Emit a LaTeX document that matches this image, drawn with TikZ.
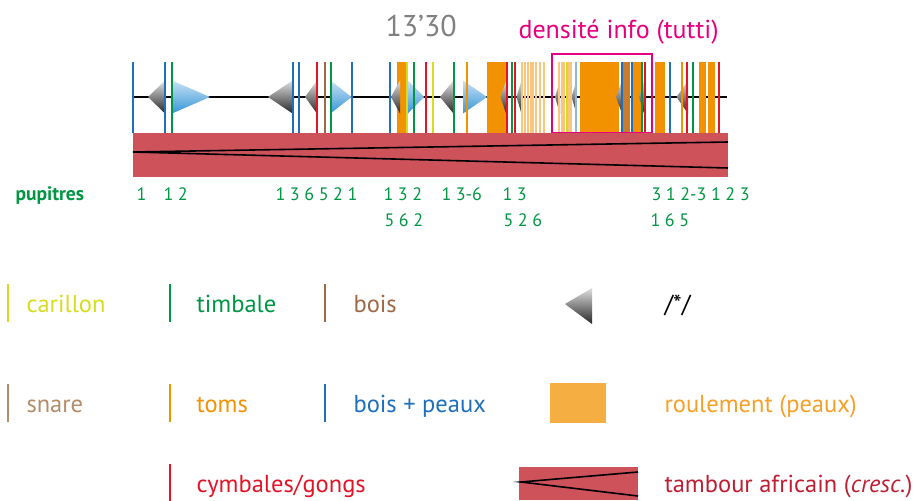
\documentclass[tikz,border=0pt]{standalone}
\usepackage{fontspec}
\setmainfont{PT Sans}
\usepackage{tikz}
\usetikzlibrary{positioning}
\definecolor{BoisPeaux}{RGB}{30,112,188}
\definecolor{BleuClair}{RGB}{200,225,245}
\definecolor{BleuFonce}{RGB}{55,150,215}
\definecolor{Timbale}{RGB}{0,150,68}
\definecolor{Cymbale}{RGB}{228,20,40}
\definecolor{Bois}{RGB}{160,105,70}
\definecolor{Snare}{RGB}{180,140,105}
\definecolor{Carillon}{RGB}{215,220,30}
\definecolor{Toms}{RGB}{243,146,0}
\definecolor{TomsClair}{RGB}{250,198,125}
\definecolor{BrunToms}{RGB}{200,125,45}
\definecolor{Roulement}{RGB}{245,174,65}
\definecolor{RoulementTxt}{RGB}{245,160,40}
\definecolor{Densite}{RGB}{230,0,126}
\definecolor{Tambour}{RGB}{205,82,89}
\definecolor{TambourTxt}{RGB}{190,30,50}
\definecolor{Minutage}{RGB}{128,128,128}
\newcommand{\chiffres}[1]{{\spaceskip=4.6pt\relax #1}}

\begin{document}
\begin{tikzpicture}[x=1pt, y=-1pt,
		trait/.style={line width=2pt},
		barre/.style={fill=Toms},
		gris/.style={top color=black!12, bottom color=black!85},
		bleu/.style={top color=BleuClair, bottom color=BleuFonce},
		legende/.style={anchor=base west, font=\fontsize{24.5}{28}\selectfont},
		pupitre/.style={anchor=base west, text=Timbale, font=\fontsize{18}{21}\selectfont}]
	\useasboundingbox (0,0) rectangle (914,501);
	\draw[line width=2pt] (133,97) -- (727,97);
	\foreach \a/\b in {397/406, 487/506, 580/618.5, 633/640.5, 655/664.5, 699/706, 708/715}{
		\fill[barre] (\a,62) rectangle (\b,133);
	}
	\fill[BrunToms] (623,62) rectangle (630,133);
	\foreach \a/\b in {148/165, 268/292.5, 305/317, 391/400, 440/453.5, 500.5/506, 516.5/521.5, 555/560, 571.5/576.5, 616/622, 639/644, 676.5/688}{
		\shade[gris] (\a,97) -- (\b,80.5) -- (\b,113.5) -- cycle;
	}
	\foreach \a/\b in {172/210, 330.5/351.5, 408/424, 463/487}{
		\shade[bleu] (\a,80.5) -- (\b,97) -- (\a,113.5) -- cycle;
	}
	\foreach \x/\col in {133/BoisPeaux, 165/BoisPeaux, 171.5/Timbale, 292.5/BoisPeaux, 299/BoisPeaux, 316.5/Cymbale, 325/Bois, 330.5/Timbale, 351.5/BoisPeaux,
		390/BoisPeaux, 406.5/Carillon, 414/Timbale, 425.5/Cymbale, 432.5/Carillon, 453.5/Timbale, 466.5/Toms, 506.5/Cymbale, 511.5/Timbale, 514.5/Cymbale,
		521.5/TomsClair, 524.5/TomsClair, 527.5/TomsClair, 530.5/TomsClair, 533/TomsClair, 536/TomsClair, 539.5/TomsClair, 543.5/TomsClair,
		559/TomsClair, 561.7/TomsClair, 564/TomsClair, 566.5/Carillon, 569/TomsClair, 571/TomsClair, 576/BoisPeaux!50,
		621.7/BoisPeaux, 631.7/BoisPeaux, 642/Timbale, 644.5/Cymbale, 670/BoisPeaux, 681.7/Toms, 687.3/Cymbale, 693.3/Timbale, 719/Cymbale}{
		\draw[trait, \col] (\x,62) -- (\x,133);
	}
	\draw[trait, Densite] (551.5,54) rectangle (651.5,133);
	\fill[Tambour] (133,133) rectangle (728,177);
	\draw[line width=1.6pt] (728,142) -- (133,152) -- (728,168);
	\node[anchor=base west, text=Minutage, font=\fontsize{30}{34}\selectfont] (minutage) at (382,36) {13’30};
	\node[anchor=base west, text=Densite, font=\fontsize{26}{30}\selectfont] (densite) at (515,38) {densité info (tutti)};
	\node[pupitre, font=\bfseries\fontsize{19.5}{22}\selectfont] (pupitres) at (12,200.5) {pupitres};
	\foreach \i/\x/\lab in {1/133/1, 2/160/1 2, 3/272/1 3 6 5 2 1, 4/380/1 3 2, 5/438/1 3-6, 6/499/1 3, 7/648/3 1 2-3 1 2 3}{
		\node[pupitre] (haut\i) at (\x,200.5) {\chiffres{\lab}};
	}
	\foreach \i/\x/\lab in {1/381/5 6 2, 2/500/5 2 6, 3/647/1 6 5}{
		\node[pupitre] (bas\i) at (\x,226) {\chiffres{\lab}};
	}
	\foreach \i/\lx/\tx/\ly/\col/\lab in {1/8/23/303/Carillon/carillon, 2/170/193/303/Timbale/timbale, 3/325/350/303/Bois/bois,
		4/8/23/403/Snare/snare, 5/170/193/403/Toms/toms, 6/325/350/403/BoisPeaux/bois + peaux, 7/170/193/483/Cymbale/{cymbales/gongs}}{
		\draw[trait, \col] (\lx,\ly-19) -- (\lx,\ly+19);
		\node[legende, text=\col] (leg\i) at (\tx,\ly+9) {\lab};
	}
	\shade[gris] (565,304) -- (592,288) -- (592,324) -- cycle;
	\node[legende] (etoile) at (661,312) {/*/};
	\fill[Roulement] (550,383) rectangle (606,423);
	\node[legende, text=RoulementTxt] (roulement) at (661,412) {roulement (peaux)};
	\fill[Tambour] (519,467) rectangle (638,500);
	\draw[line width=1.6pt] (638,472) -- (521,482) -- (638,496);
	\node[legende, text=TambourTxt] (tambour) at (661,492) {tambour africain (\textit{cresc.})};
\end{tikzpicture}
\end{document}
